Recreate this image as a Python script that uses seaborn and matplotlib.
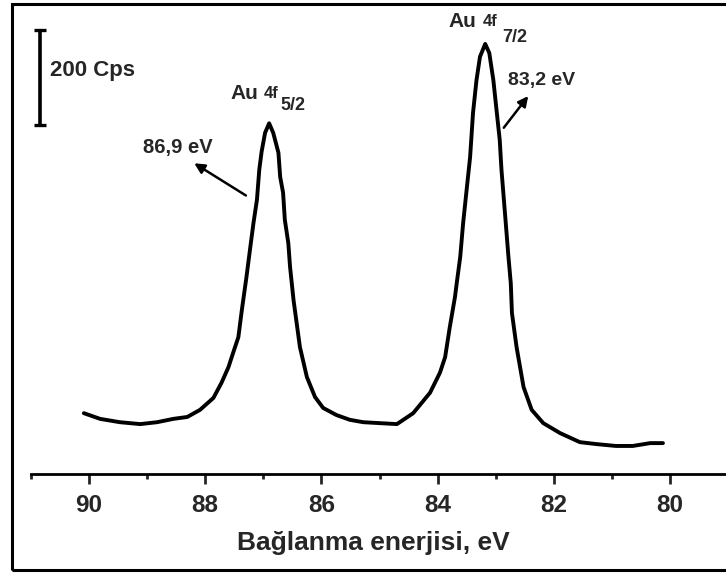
import numpy as np
import pandas as pd
import seaborn as sns
import matplotlib
matplotlib.use("Agg")
import matplotlib.pyplot as plt
from matplotlib.patches import Rectangle

# Binding energy (eV) and intensity (cps, relative)
energy = [90.09, 89.81, 89.47, 89.12, 88.83, 88.55, 88.31, 88.09, 87.86, 87.72,
          87.60, 87.52, 87.43, 87.37, 87.29, 87.23, 87.17, 87.11, 87.07, 87.03,
          86.97, 86.90, 86.83, 86.74, 86.71, 86.66, 86.63, 86.57, 86.54, 86.48,
          86.45, 86.37, 86.25, 86.11, 85.97, 85.74, 85.51, 85.28, 84.99, 84.70,
          84.42, 84.13, 83.96, 83.87, 83.79, 83.70, 83.67, 83.61, 83.56, 83.50,
          83.44, 83.39, 83.33, 83.27, 83.18, 83.11, 83.04, 82.98, 82.93, 82.90,
          82.84, 82.78, 82.74, 82.72, 82.64, 82.52, 82.38, 82.18, 81.89, 81.55,
          81.27, 80.93, 80.64, 80.34, 80.12]
intensity = [128, 116, 109, 105, 109, 116, 120, 135, 160, 192,
             225, 255, 288, 345, 415, 472, 528, 577, 640, 678,
             718, 738, 718, 676, 625, 592, 535, 486, 436, 366,
             339, 267, 204, 162, 139, 124, 114, 109, 107, 105,
             128, 171, 213, 246, 309, 373, 402, 457, 528, 598,
             667, 760, 829, 878, 905, 886, 829, 760, 703, 640,
             549, 457, 402, 339, 267, 183, 135, 107, 86, 67,
             63, 59, 59, 65, 65]

xticks = [90, 88, 86, 84, 82, 80]
minor_ticks = [91, 89, 87, 85, 83, 81, 79]
xlabel = "Bağlanma enerjisi, eV"

df = pd.DataFrame({"energy": energy, "intensity": intensity})

sns.set_style("white")
plt.rcParams["font.family"] = ["Liberation Sans", "DejaVu Sans"]
plt.rcParams["font.weight"] = "bold"

fig = plt.figure(figsize=(7.26, 5.74), dpi=100)
ax = fig.add_axes([31/726, 1-474/574, 697/726, 460/574])

sns.lineplot(data=df, x="energy", y="intensity", ax=ax, color="black",
             linewidth=2.8, sort=False)

ax.set_xlim(91, 79)
ax.set_ylim(0, 968)
ax.set_xticks(xticks)
ax.set_xticklabels([str(t) for t in xticks], fontsize=17.5, fontweight="bold")
ax.set_xticks(minor_ticks, minor=True)
ax.tick_params(axis="x", which="major", direction="out", length=7.2, width=2,
               pad=7, bottom=True)
ax.tick_params(axis="x", which="minor", direction="out", length=3.6, width=2,
               bottom=True)
ax.set_yticks([])
ax.set_ylabel("")
ax.set_xlabel(xlabel, fontsize=19, fontweight="bold")
ax.xaxis.label.set_va("baseline")
ax.xaxis.set_label_coords((373.5 - 31) / 697, (474 - 550) / 460)
for s in ["top", "left", "right"]:
    ax.spines[s].set_visible(False)
ax.spines["bottom"].set_linewidth(2)
ax.spines["bottom"].set_color("black")

# scale bar (200 cps)
ax.errorbar([90.84], [835], yerr=[100], fmt="none", ecolor="black",
            elinewidth=2.6, capsize=4, capthick=2.4)
ax.text(90.67, 838, "200 Cps", fontsize=16, fontweight="bold",
        ha="left", va="baseline")

# peak labels
ax.text(87.57, 789, "Au", fontsize=15, fontweight="bold", ha="left", va="baseline")
ax.text(87.00, 791, "4f", fontsize=12, fontweight="bold", ha="left", va="baseline")
ax.text(86.70, 766, "5/2", fontsize=13, fontweight="bold", ha="left", va="baseline")

ax.text(83.82, 941, "Au", fontsize=15, fontweight="bold", ha="left", va="baseline")
ax.text(83.22, 943, "4f", fontsize=12, fontweight="bold", ha="left", va="baseline")
ax.text(82.89, 909, "7/2", fontsize=13, fontweight="bold", ha="left", va="baseline")

# energy annotations
ax.annotate("", xy=(88.23, 657), xytext=(87.26, 583),
            arrowprops=dict(arrowstyle="-|>", color="black", lw=1.8,
                            mutation_scale=15))
ax.text(89.07, 676, "86,9 eV", fontsize=14.5, fontweight="bold",
        ha="left", va="baseline")

ax.annotate("", xy=(82.41, 800), xytext=(82.89, 724),
            arrowprops=dict(arrowstyle="-|>", color="black", lw=1.8,
                            mutation_scale=15))
ax.text(82.79, 819, "83,2 eV", fontsize=14, fontweight="bold",
        ha="left", va="baseline")

# outer frame
fig.add_artist(Rectangle((12/726, 4/574), 1.0, 1 - 8/574, transform=fig.transFigure,
                         fill=False, edgecolor="black", linewidth=2.2, clip_on=False))

fig.savefig("out.png", dpi=100)
